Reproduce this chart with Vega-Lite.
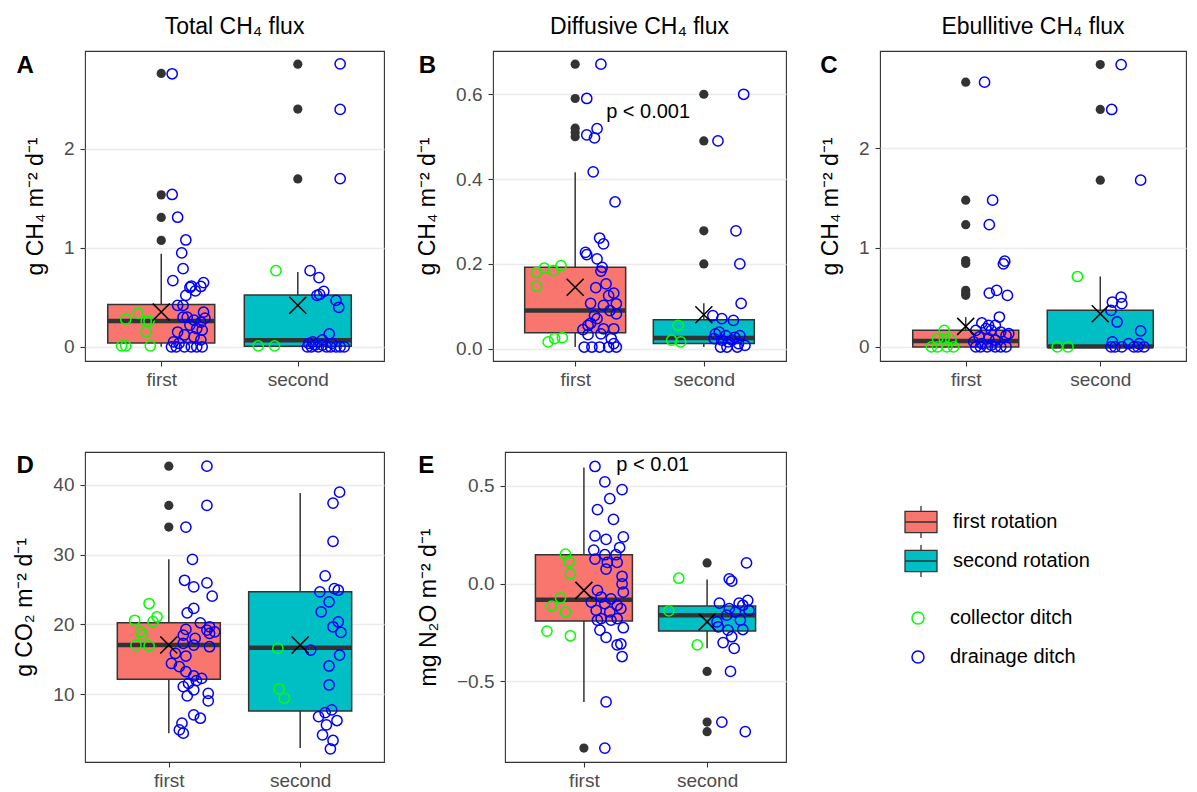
{
  "$schema": "https://vega.github.io/schema/vega-lite/v6.json",
  "padding": {"left": 13, "top": 15, "right": 4, "bottom": 0},
  "background": "white",
  "config": {
    "font": "Liberation Sans",
    "view": {"stroke": "#333333", "strokeWidth": 1.1},
    "axis": {"labelFont": "Liberation Sans", "labelFontSize": 19, "labelColor": "#4D4D4D", "tickColor": "#333333", "tickSize": 5, "tickWidth": 1.1, "domain": false, "titleFont": "Liberation Sans", "titleFontSize": 23, "titleFontWeight": "normal", "titleColor": "black"},
    "axisX": {"grid": false, "labelPadding": 4},
    "axisY": {"grid": true, "gridColor": "#EBEBEB", "gridWidth": 1.3, "labelPadding": 6, "titlePadding": 16},
    "title": {"font": "Liberation Sans", "fontSize": 23, "fontWeight": "normal", "color": "black", "anchor": "middle", "frame": "group", "offset": 12},
    "legend": {"labelFont": "Liberation Sans", "labelFontSize": 20, "labelColor": "black"}
  },
  "datasets": {
    "boxes": [
      {"panel": "A", "x": 1, "rotation": "first rotation", "lo": 0.0, "q1": 0.04, "med": 0.262, "q3": 0.427, "hi": 0.94, "mean": 0.353},
      {"panel": "A", "x": 2, "rotation": "second rotation", "lo": 0.0, "q1": 0.007, "med": 0.067, "q3": 0.524, "hi": 0.756, "mean": 0.42},
      {"panel": "B", "x": 1, "rotation": "first rotation", "lo": 0.004, "q1": 0.0376, "med": 0.09, "q3": 0.192, "hi": 0.416, "mean": 0.145},
      {"panel": "B", "x": 2, "rotation": "second rotation", "lo": 0.004, "q1": 0.012, "med": 0.025, "q3": 0.068, "hi": 0.107, "mean": 0.08},
      {"panel": "C", "x": 1, "rotation": "first rotation", "lo": 0.0, "q1": 0.0, "med": 0.06, "q3": 0.167, "hi": 0.3, "mean": 0.207},
      {"panel": "C", "x": 2, "rotation": "second rotation", "lo": 0.0, "q1": 0.0, "med": 0.005, "q3": 0.368, "hi": 0.709, "mean": 0.334},
      {"panel": "D", "x": 1, "rotation": "first rotation", "lo": 4.43, "q1": 12.14, "med": 17.05, "q3": 20.24, "hi": 29.33, "mean": 17.05},
      {"panel": "D", "x": 2, "rotation": "second rotation", "lo": 2.29, "q1": 7.62, "med": 16.67, "q3": 24.67, "hi": 38.81, "mean": 17.05},
      {"panel": "E", "x": 1, "rotation": "first rotation", "lo": -0.605, "q1": -0.191, "med": -0.083, "q3": 0.147, "hi": 0.593, "mean": -0.035},
      {"panel": "E", "x": 2, "rotation": "second rotation", "lo": -0.331, "q1": -0.242, "med": -0.162, "q3": -0.115, "hi": 0.02, "mean": -0.196}
    ],
    "outl": [
      {"panel": "A", "x": 1, "y": 2.763}, {"panel": "A", "x": 1, "y": 1.536}, {"panel": "A", "x": 1, "y": 1.308}, {"panel": "A", "x": 1, "y": 1.076},
      {"panel": "A", "x": 2, "y": 2.857}, {"panel": "A", "x": 2, "y": 2.403}, {"panel": "A", "x": 2, "y": 1.697},
      {"panel": "B", "x": 1, "y": 0.671}, {"panel": "B", "x": 1, "y": 0.59}, {"panel": "B", "x": 1, "y": 0.52}, {"panel": "B", "x": 1, "y": 0.51}, {"panel": "B", "x": 1, "y": 0.5},
      {"panel": "B", "x": 2, "y": 0.6}, {"panel": "B", "x": 2, "y": 0.49}, {"panel": "B", "x": 2, "y": 0.278}, {"panel": "B", "x": 2, "y": 0.2},
      {"panel": "C", "x": 1, "y": 2.666}, {"panel": "C", "x": 1, "y": 1.478}, {"panel": "C", "x": 1, "y": 1.231}, {"panel": "C", "x": 1, "y": 0.87}, {"panel": "C", "x": 1, "y": 0.84}, {"panel": "C", "x": 1, "y": 0.57}, {"panel": "C", "x": 1, "y": 0.54}, {"panel": "C", "x": 1, "y": 0.52},
      {"panel": "C", "x": 2, "y": 2.843}, {"panel": "C", "x": 2, "y": 2.391}, {"panel": "C", "x": 2, "y": 1.679},
      {"panel": "D", "x": 1, "y": 42.67}, {"panel": "D", "x": 1, "y": 37.05}, {"panel": "D", "x": 1, "y": 33.95},
      {"panel": "E", "x": 1, "y": -0.841},
      {"panel": "E", "x": 2, "y": 0.105}, {"panel": "E", "x": 2, "y": -0.449}, {"panel": "E", "x": 2, "y": -0.708}, {"panel": "E", "x": 2, "y": -0.757}
    ],
    "pts": [
      {"panel": "A", "x": 0.71, "y": 0.01, "ditch": "collector ditch"}, {"panel": "A", "x": 0.74, "y": 0.01, "ditch": "collector ditch"}, {"panel": "A", "x": 0.92, "y": 0.01, "ditch": "collector ditch"}, {"panel": "A", "x": 0.74, "y": 0.28, "ditch": "collector ditch"}, {"panel": "A", "x": 0.83, "y": 0.34, "ditch": "collector ditch"}, {"panel": "A", "x": 0.89, "y": 0.26, "ditch": "collector ditch"}, {"panel": "A", "x": 0.91, "y": 0.26, "ditch": "collector ditch"}, {"panel": "A", "x": 0.89, "y": 0.15, "ditch": "collector ditch"},
      {"panel": "A", "x": 1.71, "y": 0.01, "ditch": "collector ditch"}, {"panel": "A", "x": 1.83, "y": 0.01, "ditch": "collector ditch"}, {"panel": "A", "x": 1.84, "y": 0.77, "ditch": "collector ditch"},
      {"panel": "A", "x": 1.08, "y": 2.76, "ditch": "drainage ditch"}, {"panel": "A", "x": 1.08, "y": 1.54, "ditch": "drainage ditch"}, {"panel": "A", "x": 1.12, "y": 1.31, "ditch": "drainage ditch"}, {"panel": "A", "x": 1.18, "y": 1.08, "ditch": "drainage ditch"}, {"panel": "A", "x": 1.15, "y": 0.95, "ditch": "drainage ditch"}, {"panel": "A", "x": 1.16, "y": 0.79, "ditch": "drainage ditch"}, {"panel": "A", "x": 1.085, "y": 0.67, "ditch": "drainage ditch"}, {"panel": "A", "x": 1.21, "y": 0.6, "ditch": "drainage ditch"}, {"panel": "A", "x": 1.22, "y": 0.615, "ditch": "drainage ditch"}, {"panel": "A", "x": 1.29, "y": 0.61, "ditch": "drainage ditch"}, {"panel": "A", "x": 1.31, "y": 0.65, "ditch": "drainage ditch"}, {"panel": "A", "x": 1.25, "y": 0.565, "ditch": "drainage ditch"}, {"panel": "A", "x": 1.18, "y": 0.52, "ditch": "drainage ditch"}, {"panel": "A", "x": 1.12, "y": 0.42, "ditch": "drainage ditch"}, {"panel": "A", "x": 1.16, "y": 0.42, "ditch": "drainage ditch"}, {"panel": "A", "x": 1.31, "y": 0.35, "ditch": "drainage ditch"}, {"panel": "A", "x": 1.32, "y": 0.29, "ditch": "drainage ditch"}, {"panel": "A", "x": 1.19, "y": 0.3, "ditch": "drainage ditch"}, {"panel": "A", "x": 1.21, "y": 0.22, "ditch": "drainage ditch"}, {"panel": "A", "x": 1.26, "y": 0.185, "ditch": "drainage ditch"}, {"panel": "A", "x": 1.3, "y": 0.17, "ditch": "drainage ditch"}, {"panel": "A", "x": 1.12, "y": 0.15, "ditch": "drainage ditch"}, {"panel": "A", "x": 1.17, "y": 0.12, "ditch": "drainage ditch"}, {"panel": "A", "x": 1.24, "y": 0.1, "ditch": "drainage ditch"}, {"panel": "A", "x": 1.29, "y": 0.07, "ditch": "drainage ditch"}, {"panel": "A", "x": 1.09, "y": 0.05, "ditch": "drainage ditch"}, {"panel": "A", "x": 1.13, "y": 0.035, "ditch": "drainage ditch"}, {"panel": "A", "x": 1.075, "y": 0.0, "ditch": "drainage ditch"}, {"panel": "A", "x": 1.11, "y": 0.0, "ditch": "drainage ditch"}, {"panel": "A", "x": 1.17, "y": 0.0, "ditch": "drainage ditch"}, {"panel": "A", "x": 1.22, "y": 0.0, "ditch": "drainage ditch"}, {"panel": "A", "x": 1.26, "y": 0.0, "ditch": "drainage ditch"}, {"panel": "A", "x": 1.3, "y": 0.0, "ditch": "drainage ditch"}, {"panel": "A", "x": 1.16, "y": 0.3, "ditch": "drainage ditch"}, {"panel": "A", "x": 1.24, "y": 0.27, "ditch": "drainage ditch"}, {"panel": "A", "x": 1.29, "y": 0.25, "ditch": "drainage ditch"},
      {"panel": "A", "x": 2.31, "y": 2.86, "ditch": "drainage ditch"}, {"panel": "A", "x": 2.31, "y": 2.4, "ditch": "drainage ditch"}, {"panel": "A", "x": 2.31, "y": 1.7, "ditch": "drainage ditch"}, {"panel": "A", "x": 2.09, "y": 0.77, "ditch": "drainage ditch"}, {"panel": "A", "x": 2.155, "y": 0.7, "ditch": "drainage ditch"}, {"panel": "A", "x": 2.19, "y": 0.56, "ditch": "drainage ditch"}, {"panel": "A", "x": 2.14, "y": 0.52, "ditch": "drainage ditch"}, {"panel": "A", "x": 2.16, "y": 0.53, "ditch": "drainage ditch"}, {"panel": "A", "x": 2.28, "y": 0.47, "ditch": "drainage ditch"}, {"panel": "A", "x": 2.3, "y": 0.4, "ditch": "drainage ditch"}, {"panel": "A", "x": 2.23, "y": 0.13, "ditch": "drainage ditch"}, {"panel": "A", "x": 2.08, "y": 0.035, "ditch": "drainage ditch"}, {"panel": "A", "x": 2.07, "y": 0.0, "ditch": "drainage ditch"}, {"panel": "A", "x": 2.1, "y": 0.0, "ditch": "drainage ditch"}, {"panel": "A", "x": 2.125, "y": 0.017, "ditch": "drainage ditch"}, {"panel": "A", "x": 2.15, "y": 0.0, "ditch": "drainage ditch"}, {"panel": "A", "x": 2.18, "y": 0.017, "ditch": "drainage ditch"}, {"panel": "A", "x": 2.21, "y": 0.0, "ditch": "drainage ditch"}, {"panel": "A", "x": 2.24, "y": 0.0, "ditch": "drainage ditch"}, {"panel": "A", "x": 2.28, "y": 0.0, "ditch": "drainage ditch"}, {"panel": "A", "x": 2.31, "y": 0.0, "ditch": "drainage ditch"}, {"panel": "A", "x": 2.34, "y": 0.0, "ditch": "drainage ditch"}, {"panel": "A", "x": 2.11, "y": 0.05, "ditch": "drainage ditch"}, {"panel": "A", "x": 2.18, "y": 0.07, "ditch": "drainage ditch"}, {"panel": "A", "x": 2.25, "y": 0.035, "ditch": "drainage ditch"},

      {"panel": "B", "x": 0.7, "y": 0.18, "ditch": "collector ditch"}, {"panel": "B", "x": 0.76, "y": 0.19, "ditch": "collector ditch"}, {"panel": "B", "x": 0.83, "y": 0.184, "ditch": "collector ditch"}, {"panel": "B", "x": 0.89, "y": 0.196, "ditch": "collector ditch"}, {"panel": "B", "x": 0.7, "y": 0.147, "ditch": "collector ditch"}, {"panel": "B", "x": 0.79, "y": 0.016, "ditch": "collector ditch"}, {"panel": "B", "x": 0.84, "y": 0.024, "ditch": "collector ditch"}, {"panel": "B", "x": 0.9, "y": 0.026, "ditch": "collector ditch"},
      {"panel": "B", "x": 1.8, "y": 0.055, "ditch": "collector ditch"}, {"panel": "B", "x": 1.75, "y": 0.02, "ditch": "collector ditch"}, {"panel": "B", "x": 1.82, "y": 0.016, "ditch": "collector ditch"},
      {"panel": "B", "x": 1.2, "y": 0.671, "ditch": "drainage ditch"}, {"panel": "B", "x": 1.09, "y": 0.59, "ditch": "drainage ditch"}, {"panel": "B", "x": 1.09, "y": 0.504, "ditch": "drainage ditch"}, {"panel": "B", "x": 1.17, "y": 0.519, "ditch": "drainage ditch"}, {"panel": "B", "x": 1.15, "y": 0.497, "ditch": "drainage ditch"}, {"panel": "B", "x": 1.14, "y": 0.417, "ditch": "drainage ditch"}, {"panel": "B", "x": 1.31, "y": 0.346, "ditch": "drainage ditch"}, {"panel": "B", "x": 1.19, "y": 0.261, "ditch": "drainage ditch"}, {"panel": "B", "x": 1.22, "y": 0.247, "ditch": "drainage ditch"}, {"panel": "B", "x": 1.08, "y": 0.227, "ditch": "drainage ditch"}, {"panel": "B", "x": 1.09, "y": 0.222, "ditch": "drainage ditch"}, {"panel": "B", "x": 1.17, "y": 0.212, "ditch": "drainage ditch"}, {"panel": "B", "x": 1.21, "y": 0.192, "ditch": "drainage ditch"}, {"panel": "B", "x": 1.2, "y": 0.183, "ditch": "drainage ditch"}, {"panel": "B", "x": 1.24, "y": 0.153, "ditch": "drainage ditch"}, {"panel": "B", "x": 1.16, "y": 0.144, "ditch": "drainage ditch"}, {"panel": "B", "x": 1.3, "y": 0.131, "ditch": "drainage ditch"}, {"panel": "B", "x": 1.26, "y": 0.125, "ditch": "drainage ditch"}, {"panel": "B", "x": 1.12, "y": 0.107, "ditch": "drainage ditch"}, {"panel": "B", "x": 1.32, "y": 0.106, "ditch": "drainage ditch"}, {"panel": "B", "x": 1.22, "y": 0.102, "ditch": "drainage ditch"}, {"panel": "B", "x": 1.27, "y": 0.09, "ditch": "drainage ditch"}, {"panel": "B", "x": 1.32, "y": 0.082, "ditch": "drainage ditch"}, {"panel": "B", "x": 1.15, "y": 0.078, "ditch": "drainage ditch"}, {"panel": "B", "x": 1.17, "y": 0.071, "ditch": "drainage ditch"}, {"panel": "B", "x": 1.12, "y": 0.06, "ditch": "drainage ditch"}, {"panel": "B", "x": 1.1, "y": 0.055, "ditch": "drainage ditch"}, {"panel": "B", "x": 1.06, "y": 0.045, "ditch": "drainage ditch"}, {"panel": "B", "x": 1.22, "y": 0.047, "ditch": "drainage ditch"}, {"panel": "B", "x": 1.3, "y": 0.047, "ditch": "drainage ditch"}, {"panel": "B", "x": 1.1, "y": 0.033, "ditch": "drainage ditch"}, {"panel": "B", "x": 1.2, "y": 0.035, "ditch": "drainage ditch"}, {"panel": "B", "x": 1.28, "y": 0.024, "ditch": "drainage ditch"}, {"panel": "B", "x": 1.3, "y": 0.012, "ditch": "drainage ditch"}, {"panel": "B", "x": 1.07, "y": 0.004, "ditch": "drainage ditch"}, {"panel": "B", "x": 1.13, "y": 0.004, "ditch": "drainage ditch"}, {"panel": "B", "x": 1.19, "y": 0.004, "ditch": "drainage ditch"}, {"panel": "B", "x": 1.26, "y": 0.004, "ditch": "drainage ditch"}, {"panel": "B", "x": 1.32, "y": 0.004, "ditch": "drainage ditch"},
      {"panel": "B", "x": 2.31, "y": 0.6, "ditch": "drainage ditch"}, {"panel": "B", "x": 2.11, "y": 0.49, "ditch": "drainage ditch"}, {"panel": "B", "x": 2.25, "y": 0.278, "ditch": "drainage ditch"}, {"panel": "B", "x": 2.28, "y": 0.2, "ditch": "drainage ditch"}, {"panel": "B", "x": 2.29, "y": 0.107, "ditch": "drainage ditch"}, {"panel": "B", "x": 2.07, "y": 0.078, "ditch": "drainage ditch"}, {"panel": "B", "x": 2.14, "y": 0.071, "ditch": "drainage ditch"}, {"panel": "B", "x": 2.23, "y": 0.067, "ditch": "drainage ditch"}, {"panel": "B", "x": 2.09, "y": 0.035, "ditch": "drainage ditch"}, {"panel": "B", "x": 2.12, "y": 0.039, "ditch": "drainage ditch"}, {"panel": "B", "x": 2.17, "y": 0.031, "ditch": "drainage ditch"}, {"panel": "B", "x": 2.24, "y": 0.027, "ditch": "drainage ditch"}, {"panel": "B", "x": 2.28, "y": 0.031, "ditch": "drainage ditch"}, {"panel": "B", "x": 2.08, "y": 0.024, "ditch": "drainage ditch"}, {"panel": "B", "x": 2.14, "y": 0.02, "ditch": "drainage ditch"}, {"panel": "B", "x": 2.19, "y": 0.016, "ditch": "drainage ditch"}, {"panel": "B", "x": 2.22, "y": 0.02, "ditch": "drainage ditch"}, {"panel": "B", "x": 2.13, "y": 0.004, "ditch": "drainage ditch"}, {"panel": "B", "x": 2.18, "y": 0.004, "ditch": "drainage ditch"}, {"panel": "B", "x": 2.26, "y": 0.004, "ditch": "drainage ditch"}, {"panel": "B", "x": 2.32, "y": 0.008, "ditch": "drainage ditch"}, {"panel": "B", "x": 2.27, "y": 0.012, "ditch": "drainage ditch"},

      {"panel": "C", "x": 0.745, "y": 0.0, "ditch": "collector ditch"}, {"panel": "C", "x": 0.79, "y": 0.0, "ditch": "collector ditch"}, {"panel": "C", "x": 0.86, "y": 0.0, "ditch": "collector ditch"}, {"panel": "C", "x": 0.91, "y": 0.0, "ditch": "collector ditch"}, {"panel": "C", "x": 0.84, "y": 0.167, "ditch": "collector ditch"}, {"panel": "C", "x": 0.84, "y": 0.084, "ditch": "collector ditch"}, {"panel": "C", "x": 0.79, "y": 0.084, "ditch": "collector ditch"}, {"panel": "C", "x": 0.89, "y": 0.067, "ditch": "collector ditch"},
      {"panel": "C", "x": 1.68, "y": 0.0, "ditch": "collector ditch"}, {"panel": "C", "x": 1.76, "y": 0.0, "ditch": "collector ditch"}, {"panel": "C", "x": 1.83, "y": 0.709, "ditch": "collector ditch"},
      {"panel": "C", "x": 1.14, "y": 2.666, "ditch": "drainage ditch"}, {"panel": "C", "x": 1.2, "y": 1.478, "ditch": "drainage ditch"}, {"panel": "C", "x": 1.175, "y": 1.231, "ditch": "drainage ditch"}, {"panel": "C", "x": 1.29, "y": 0.863, "ditch": "drainage ditch"}, {"panel": "C", "x": 1.28, "y": 0.836, "ditch": "drainage ditch"}, {"panel": "C", "x": 1.175, "y": 0.542, "ditch": "drainage ditch"}, {"panel": "C", "x": 1.23, "y": 0.569, "ditch": "drainage ditch"}, {"panel": "C", "x": 1.31, "y": 0.518, "ditch": "drainage ditch"}, {"panel": "C", "x": 1.25, "y": 0.301, "ditch": "drainage ditch"}, {"panel": "C", "x": 1.12, "y": 0.241, "ditch": "drainage ditch"}, {"panel": "C", "x": 1.17, "y": 0.217, "ditch": "drainage ditch"}, {"panel": "C", "x": 1.22, "y": 0.217, "ditch": "drainage ditch"}, {"panel": "C", "x": 1.075, "y": 0.167, "ditch": "drainage ditch"}, {"panel": "C", "x": 1.15, "y": 0.184, "ditch": "drainage ditch"}, {"panel": "C", "x": 1.19, "y": 0.167, "ditch": "drainage ditch"}, {"panel": "C", "x": 1.26, "y": 0.15, "ditch": "drainage ditch"}, {"panel": "C", "x": 1.32, "y": 0.134, "ditch": "drainage ditch"}, {"panel": "C", "x": 1.3, "y": 0.117, "ditch": "drainage ditch"}, {"panel": "C", "x": 1.1, "y": 0.1, "ditch": "drainage ditch"}, {"panel": "C", "x": 1.17, "y": 0.084, "ditch": "drainage ditch"}, {"panel": "C", "x": 1.22, "y": 0.067, "ditch": "drainage ditch"}, {"panel": "C", "x": 1.06, "y": 0.05, "ditch": "drainage ditch"}, {"panel": "C", "x": 1.12, "y": 0.033, "ditch": "drainage ditch"}, {"panel": "C", "x": 1.19, "y": 0.017, "ditch": "drainage ditch"}, {"panel": "C", "x": 1.075, "y": 0.0, "ditch": "drainage ditch"}, {"panel": "C", "x": 1.11, "y": 0.0, "ditch": "drainage ditch"}, {"panel": "C", "x": 1.16, "y": 0.0, "ditch": "drainage ditch"}, {"panel": "C", "x": 1.22, "y": 0.0, "ditch": "drainage ditch"}, {"panel": "C", "x": 1.26, "y": 0.0, "ditch": "drainage ditch"}, {"panel": "C", "x": 1.3, "y": 0.0, "ditch": "drainage ditch"},
      {"panel": "C", "x": 2.155, "y": 2.843, "ditch": "drainage ditch"}, {"panel": "C", "x": 2.085, "y": 2.391, "ditch": "drainage ditch"}, {"panel": "C", "x": 2.3, "y": 1.679, "ditch": "drainage ditch"}, {"panel": "C", "x": 2.155, "y": 0.502, "ditch": "drainage ditch"}, {"panel": "C", "x": 2.16, "y": 0.435, "ditch": "drainage ditch"}, {"panel": "C", "x": 2.09, "y": 0.452, "ditch": "drainage ditch"}, {"panel": "C", "x": 2.08, "y": 0.368, "ditch": "drainage ditch"}, {"panel": "C", "x": 2.125, "y": 0.251, "ditch": "drainage ditch"}, {"panel": "C", "x": 2.3, "y": 0.161, "ditch": "drainage ditch"}, {"panel": "C", "x": 2.09, "y": 0.05, "ditch": "drainage ditch"}, {"panel": "C", "x": 2.08, "y": 0.0, "ditch": "drainage ditch"}, {"panel": "C", "x": 2.11, "y": 0.0, "ditch": "drainage ditch"}, {"panel": "C", "x": 2.16, "y": 0.0, "ditch": "drainage ditch"}, {"panel": "C", "x": 2.21, "y": 0.033, "ditch": "drainage ditch"}, {"panel": "C", "x": 2.25, "y": 0.0, "ditch": "drainage ditch"}, {"panel": "C", "x": 2.29, "y": 0.033, "ditch": "drainage ditch"}, {"panel": "C", "x": 2.325, "y": 0.0, "ditch": "drainage ditch"}, {"panel": "C", "x": 2.28, "y": 0.0, "ditch": "drainage ditch"},

      {"panel": "D", "x": 0.74, "y": 20.6, "ditch": "collector ditch"}, {"panel": "D", "x": 0.85, "y": 23.0, "ditch": "collector ditch"}, {"panel": "D", "x": 0.91, "y": 21.1, "ditch": "collector ditch"}, {"panel": "D", "x": 0.88, "y": 20.4, "ditch": "collector ditch"}, {"panel": "D", "x": 0.785, "y": 18.95, "ditch": "collector ditch"}, {"panel": "D", "x": 0.8, "y": 18.5, "ditch": "collector ditch"}, {"panel": "D", "x": 0.75, "y": 17.05, "ditch": "collector ditch"}, {"panel": "D", "x": 0.85, "y": 16.95, "ditch": "collector ditch"},
      {"panel": "D", "x": 1.83, "y": 16.57, "ditch": "collector ditch"}, {"panel": "D", "x": 1.84, "y": 10.76, "ditch": "collector ditch"}, {"panel": "D", "x": 1.88, "y": 9.43, "ditch": "collector ditch"},
      {"panel": "D", "x": 1.29, "y": 42.67, "ditch": "drainage ditch"}, {"panel": "D", "x": 1.29, "y": 37.05, "ditch": "drainage ditch"}, {"panel": "D", "x": 1.13, "y": 33.95, "ditch": "drainage ditch"}, {"panel": "D", "x": 1.18, "y": 29.33, "ditch": "drainage ditch"}, {"panel": "D", "x": 1.12, "y": 26.33, "ditch": "drainage ditch"}, {"panel": "D", "x": 1.19, "y": 25.38, "ditch": "drainage ditch"}, {"panel": "D", "x": 1.29, "y": 25.95, "ditch": "drainage ditch"}, {"panel": "D", "x": 1.33, "y": 24.05, "ditch": "drainage ditch"}, {"panel": "D", "x": 1.19, "y": 22.29, "ditch": "drainage ditch"}, {"panel": "D", "x": 1.14, "y": 21.67, "ditch": "drainage ditch"}, {"panel": "D", "x": 1.24, "y": 20.24, "ditch": "drainage ditch"}, {"panel": "D", "x": 1.13, "y": 19.29, "ditch": "drainage ditch"}, {"panel": "D", "x": 1.31, "y": 19.67, "ditch": "drainage ditch"}, {"panel": "D", "x": 1.29, "y": 19.19, "ditch": "drainage ditch"}, {"panel": "D", "x": 1.35, "y": 18.95, "ditch": "drainage ditch"}, {"panel": "D", "x": 1.11, "y": 18.48, "ditch": "drainage ditch"}, {"panel": "D", "x": 1.2, "y": 18.0, "ditch": "drainage ditch"}, {"panel": "D", "x": 1.31, "y": 18.71, "ditch": "drainage ditch"}, {"panel": "D", "x": 1.11, "y": 17.29, "ditch": "drainage ditch"}, {"panel": "D", "x": 1.19, "y": 17.05, "ditch": "drainage ditch"}, {"panel": "D", "x": 1.31, "y": 16.81, "ditch": "drainage ditch"}, {"panel": "D", "x": 1.05, "y": 15.86, "ditch": "drainage ditch"}, {"panel": "D", "x": 1.13, "y": 15.48, "ditch": "drainage ditch"}, {"panel": "D", "x": 1.02, "y": 14.43, "ditch": "drainage ditch"}, {"panel": "D", "x": 1.08, "y": 13.95, "ditch": "drainage ditch"}, {"panel": "D", "x": 1.13, "y": 13.24, "ditch": "drainage ditch"}, {"panel": "D", "x": 1.19, "y": 12.62, "ditch": "drainage ditch"}, {"panel": "D", "x": 1.25, "y": 12.29, "ditch": "drainage ditch"}, {"panel": "D", "x": 1.21, "y": 11.95, "ditch": "drainage ditch"}, {"panel": "D", "x": 1.15, "y": 11.57, "ditch": "drainage ditch"}, {"panel": "D", "x": 1.11, "y": 11.1, "ditch": "drainage ditch"}, {"panel": "D", "x": 1.19, "y": 10.62, "ditch": "drainage ditch"}, {"panel": "D", "x": 1.3, "y": 10.14, "ditch": "drainage ditch"}, {"panel": "D", "x": 1.14, "y": 9.76, "ditch": "drainage ditch"}, {"panel": "D", "x": 1.3, "y": 9.05, "ditch": "drainage ditch"}, {"panel": "D", "x": 1.19, "y": 7.05, "ditch": "drainage ditch"}, {"panel": "D", "x": 1.24, "y": 6.57, "ditch": "drainage ditch"}, {"panel": "D", "x": 1.1, "y": 5.86, "ditch": "drainage ditch"}, {"panel": "D", "x": 1.08, "y": 4.9, "ditch": "drainage ditch"}, {"panel": "D", "x": 1.11, "y": 4.43, "ditch": "drainage ditch"},
      {"panel": "D", "x": 2.3, "y": 38.95, "ditch": "drainage ditch"}, {"panel": "D", "x": 2.25, "y": 37.38, "ditch": "drainage ditch"}, {"panel": "D", "x": 2.25, "y": 31.9, "ditch": "drainage ditch"}, {"panel": "D", "x": 2.19, "y": 26.95, "ditch": "drainage ditch"}, {"panel": "D", "x": 2.15, "y": 24.67, "ditch": "drainage ditch"}, {"panel": "D", "x": 2.26, "y": 25.14, "ditch": "drainage ditch"}, {"panel": "D", "x": 2.29, "y": 24.9, "ditch": "drainage ditch"}, {"panel": "D", "x": 2.22, "y": 23.24, "ditch": "drainage ditch"}, {"panel": "D", "x": 2.16, "y": 21.81, "ditch": "drainage ditch"}, {"panel": "D", "x": 2.29, "y": 20.38, "ditch": "drainage ditch"}, {"panel": "D", "x": 2.25, "y": 19.67, "ditch": "drainage ditch"}, {"panel": "D", "x": 2.31, "y": 18.86, "ditch": "drainage ditch"}, {"panel": "D", "x": 2.08, "y": 16.33, "ditch": "drainage ditch"}, {"panel": "D", "x": 2.3, "y": 15.62, "ditch": "drainage ditch"}, {"panel": "D", "x": 2.22, "y": 14.05, "ditch": "drainage ditch"}, {"panel": "D", "x": 2.22, "y": 11.33, "ditch": "drainage ditch"}, {"panel": "D", "x": 2.24, "y": 7.76, "ditch": "drainage ditch"}, {"panel": "D", "x": 2.19, "y": 7.38, "ditch": "drainage ditch"}, {"panel": "D", "x": 2.14, "y": 6.81, "ditch": "drainage ditch"}, {"panel": "D", "x": 2.28, "y": 6.24, "ditch": "drainage ditch"}, {"panel": "D", "x": 2.2, "y": 5.62, "ditch": "drainage ditch"}, {"panel": "D", "x": 2.17, "y": 4.19, "ditch": "drainage ditch"}, {"panel": "D", "x": 2.25, "y": 3.38, "ditch": "drainage ditch"}, {"panel": "D", "x": 2.23, "y": 2.19, "ditch": "drainage ditch"},

      {"panel": "E", "x": 0.85, "y": 0.15, "ditch": "collector ditch"}, {"panel": "E", "x": 0.88, "y": 0.113, "ditch": "collector ditch"}, {"panel": "E", "x": 0.89, "y": 0.049, "ditch": "collector ditch"}, {"panel": "E", "x": 0.81, "y": -0.073, "ditch": "collector ditch"}, {"panel": "E", "x": 0.74, "y": -0.115, "ditch": "collector ditch"}, {"panel": "E", "x": 0.85, "y": -0.145, "ditch": "collector ditch"}, {"panel": "E", "x": 0.7, "y": -0.243, "ditch": "collector ditch"}, {"panel": "E", "x": 0.89, "y": -0.267, "ditch": "collector ditch"},
      {"panel": "E", "x": 1.77, "y": 0.027, "ditch": "collector ditch"}, {"panel": "E", "x": 1.69, "y": -0.14, "ditch": "collector ditch"}, {"panel": "E", "x": 1.92, "y": -0.314, "ditch": "collector ditch"},
      {"panel": "E", "x": 1.09, "y": 0.598, "ditch": "drainage ditch"}, {"panel": "E", "x": 1.17, "y": 0.519, "ditch": "drainage ditch"}, {"panel": "E", "x": 1.31, "y": 0.48, "ditch": "drainage ditch"}, {"panel": "E", "x": 1.21, "y": 0.434, "ditch": "drainage ditch"}, {"panel": "E", "x": 1.11, "y": 0.378, "ditch": "drainage ditch"}, {"panel": "E", "x": 1.24, "y": 0.328, "ditch": "drainage ditch"}, {"panel": "E", "x": 1.09, "y": 0.243, "ditch": "drainage ditch"}, {"panel": "E", "x": 1.18, "y": 0.226, "ditch": "drainage ditch"}, {"panel": "E", "x": 1.32, "y": 0.238, "ditch": "drainage ditch"}, {"panel": "E", "x": 1.29, "y": 0.184, "ditch": "drainage ditch"}, {"panel": "E", "x": 1.08, "y": 0.171, "ditch": "drainage ditch"}, {"panel": "E", "x": 1.17, "y": 0.147, "ditch": "drainage ditch"}, {"panel": "E", "x": 1.26, "y": 0.147, "ditch": "drainage ditch"}, {"panel": "E", "x": 1.09, "y": 0.125, "ditch": "drainage ditch"}, {"panel": "E", "x": 1.19, "y": 0.108, "ditch": "drainage ditch"}, {"panel": "E", "x": 1.27, "y": 0.108, "ditch": "drainage ditch"}, {"panel": "E", "x": 1.18, "y": 0.074, "ditch": "drainage ditch"}, {"panel": "E", "x": 1.31, "y": 0.037, "ditch": "drainage ditch"}, {"panel": "E", "x": 1.31, "y": -0.002, "ditch": "drainage ditch"}, {"panel": "E", "x": 1.11, "y": -0.035, "ditch": "drainage ditch"}, {"panel": "E", "x": 1.32, "y": -0.044, "ditch": "drainage ditch"}, {"panel": "E", "x": 1.14, "y": -0.069, "ditch": "drainage ditch"}, {"panel": "E", "x": 1.22, "y": -0.078, "ditch": "drainage ditch"}, {"panel": "E", "x": 1.06, "y": -0.095, "ditch": "drainage ditch"}, {"panel": "E", "x": 1.17, "y": -0.103, "ditch": "drainage ditch"}, {"panel": "E", "x": 1.27, "y": -0.111, "ditch": "drainage ditch"}, {"panel": "E", "x": 1.3, "y": -0.128, "ditch": "drainage ditch"}, {"panel": "E", "x": 1.1, "y": -0.137, "ditch": "drainage ditch"}, {"panel": "E", "x": 1.21, "y": -0.145, "ditch": "drainage ditch"}, {"panel": "E", "x": 1.14, "y": -0.179, "ditch": "drainage ditch"}, {"panel": "E", "x": 1.27, "y": -0.179, "ditch": "drainage ditch"}, {"panel": "E", "x": 1.11, "y": -0.187, "ditch": "drainage ditch"}, {"panel": "E", "x": 1.22, "y": -0.187, "ditch": "drainage ditch"}, {"panel": "E", "x": 1.32, "y": -0.226, "ditch": "drainage ditch"}, {"panel": "E", "x": 1.13, "y": -0.238, "ditch": "drainage ditch"}, {"panel": "E", "x": 1.18, "y": -0.275, "ditch": "drainage ditch"}, {"panel": "E", "x": 1.3, "y": -0.309, "ditch": "drainage ditch"}, {"panel": "E", "x": 1.27, "y": -0.314, "ditch": "drainage ditch"}, {"panel": "E", "x": 1.31, "y": -0.373, "ditch": "drainage ditch"}, {"panel": "E", "x": 1.18, "y": -0.605, "ditch": "drainage ditch"}, {"panel": "E", "x": 1.17, "y": -0.841, "ditch": "drainage ditch"},
      {"panel": "E", "x": 2.32, "y": 0.105, "ditch": "drainage ditch"}, {"panel": "E", "x": 2.18, "y": 0.024, "ditch": "drainage ditch"}, {"panel": "E", "x": 2.2, "y": 0.012, "ditch": "drainage ditch"}, {"panel": "E", "x": 2.1, "y": -0.1, "ditch": "drainage ditch"}, {"panel": "E", "x": 2.18, "y": -0.128, "ditch": "drainage ditch"}, {"panel": "E", "x": 2.26, "y": -0.1, "ditch": "drainage ditch"}, {"panel": "E", "x": 2.33, "y": -0.086, "ditch": "drainage ditch"}, {"panel": "E", "x": 2.29, "y": -0.111, "ditch": "drainage ditch"}, {"panel": "E", "x": 2.23, "y": -0.145, "ditch": "drainage ditch"}, {"panel": "E", "x": 2.16, "y": -0.162, "ditch": "drainage ditch"}, {"panel": "E", "x": 2.34, "y": -0.137, "ditch": "drainage ditch"}, {"panel": "E", "x": 2.08, "y": -0.196, "ditch": "drainage ditch"}, {"panel": "E", "x": 2.27, "y": -0.187, "ditch": "drainage ditch"}, {"panel": "E", "x": 2.17, "y": -0.238, "ditch": "drainage ditch"}, {"panel": "E", "x": 2.09, "y": -0.221, "ditch": "drainage ditch"}, {"panel": "E", "x": 2.29, "y": -0.235, "ditch": "drainage ditch"}, {"panel": "E", "x": 2.2, "y": -0.272, "ditch": "drainage ditch"}, {"panel": "E", "x": 2.13, "y": -0.302, "ditch": "drainage ditch"}, {"panel": "E", "x": 2.22, "y": -0.331, "ditch": "drainage ditch"}, {"panel": "E", "x": 2.19, "y": -0.449, "ditch": "drainage ditch"}, {"panel": "E", "x": 2.12, "y": -0.708, "ditch": "drainage ditch"}, {"panel": "E", "x": 2.31, "y": -0.757, "ditch": "drainage ditch"}
    ]
  },
  "spacing": 61,
  "vconcat": [
    {
      "spacing": 31,
      "hconcat": [
        {
          "width": 299, "height": 310,
          "title": {"text": "Total CH₄ flux"},
          "layer": [
            {"data": {"name": "boxes"}, "transform": [{"filter": "datum.panel == 'A'"}], "mark": {"type": "rule", "color": "#333333", "strokeWidth": 1.5},
             "encoding": {"x": {"field": "x", "type": "quantitative", "scale": {"domain": [0.4784, 2.5945], "nice": false, "zero": false}, "axis": {"values": [1, 2], "labelExpr": "datum.value == 1 ? 'first' : 'second'", "title": null}},
                          "y": {"field": "lo", "type": "quantitative", "scale": {"domain": [-0.143, 2.99], "nice": false, "zero": false}, "axis": {"values": [0, 1, 2], "format": "d", "title": "g CH₄ m⁻² d⁻¹"}},
                          "y2": {"field": "hi"}}},
            {"data": {"name": "boxes"}, "transform": [{"filter": "datum.panel == 'A'"}], "mark": {"type": "bar", "orient": "vertical", "size": 107, "stroke": "#333333", "strokeWidth": 1.5},
             "encoding": {"x": {"field": "x", "type": "quantitative"}, "y": {"field": "q1", "type": "quantitative"}, "y2": {"field": "q3"},
                          "fill": {"field": "rotation", "type": "nominal", "scale": {"domain": ["first rotation", "second rotation"], "range": ["#F8766D", "#00BFC4"]},
                                   "legend": {"title": null, "orient": "none", "legendX": 819, "legendY": 454, "symbolType": "M-1,-0.66H1V0.66H-1Z M0,-0.66V-1 M0,0.66V1 M-1,0H1", "symbolSize": 1024, "symbolStrokeColor": "#333333", "symbolStrokeWidth": 1.3, "symbolOpacity": 1, "labelOffset": 15, "rowPadding": 1}}}},
            {"data": {"name": "boxes"}, "transform": [{"filter": "datum.panel == 'A'"}], "mark": {"type": "tick", "orient": "horizontal", "size": 107, "thickness": 4.5, "color": "#333333", "opacity": 1},
             "encoding": {"x": {"field": "x", "type": "quantitative"}, "y": {"field": "med", "type": "quantitative"}}},
            {"data": {"name": "outl"}, "transform": [{"filter": "datum.panel == 'A'"}], "mark": {"type": "circle", "size": 85, "color": "#333333", "opacity": 1},
             "encoding": {"x": {"field": "x", "type": "quantitative"}, "y": {"field": "y", "type": "quantitative"}}},
            {"data": {"name": "pts"}, "transform": [{"filter": "datum.panel == 'A'"}], "mark": {"type": "point", "shape": "circle", "filled": false, "size": 105, "strokeWidth": 1.5, "opacity": 1},
             "encoding": {"x": {"field": "x", "type": "quantitative"}, "y": {"field": "y", "type": "quantitative"},
                          "stroke": {"field": "ditch", "type": "nominal", "scale": {"domain": ["collector ditch", "drainage ditch"], "range": ["#00FF00", "#0000FF"]},
                                     "legend": {"title": null, "orient": "none", "legendX": 823, "legendY": 557, "symbolType": "circle", "symbolSize": 144, "symbolStrokeWidth": 1.5, "labelOffset": 22, "rowPadding": 19}}}},
            {"data": {"name": "boxes"}, "transform": [{"filter": "datum.panel == 'A'"}], "mark": {"type": "point", "shape": "M-1,-1L1,1M-1,1L1,-1", "size": 289, "strokeWidth": 1.5, "color": "black", "filled": false, "opacity": 1},
             "encoding": {"x": {"field": "x", "type": "quantitative"}, "y": {"field": "mean", "type": "quantitative"}}},
            {"data": {"values": [{}]}, "mark": {"type": "text", "fontSize": 24, "fontWeight": "bold", "align": "left", "baseline": "alphabetic", "color": "black"},
             "encoding": {"x": {"datum": -0.0595}, "y": {"datum": 2.768}, "text": {"value": "A"}}}
          ]
        },
        {
          "width": 293, "height": 310,
          "title": {"text": "Diffusive CH₄ flux"},
          "layer": [
            {"data": {"name": "boxes"}, "transform": [{"filter": "datum.panel == 'B'"}], "mark": {"type": "rule", "color": "#333333", "strokeWidth": 1.5},
             "encoding": {"x": {"field": "x", "type": "quantitative", "scale": {"domain": [0.4, 2.6], "nice": false, "zero": false}, "axis": {"values": [1, 2], "labelExpr": "datum.value == 1 ? 'first' : 'second'", "title": null}},
                          "y": {"field": "lo", "type": "quantitative", "scale": {"domain": [-0.029, 0.702], "nice": false, "zero": false}, "axis": {"values": [0, 0.2, 0.4, 0.6], "format": ".1f", "title": "g CH₄ m⁻² d⁻¹"}},
                          "y2": {"field": "hi"}}},
            {"data": {"name": "boxes"}, "transform": [{"filter": "datum.panel == 'B'"}], "mark": {"type": "bar", "orient": "vertical", "size": 101, "stroke": "#333333", "strokeWidth": 1.5},
             "encoding": {"x": {"field": "x", "type": "quantitative"}, "y": {"field": "q1", "type": "quantitative"}, "y2": {"field": "q3"},
                          "fill": {"field": "rotation", "type": "nominal", "scale": {"domain": ["first rotation", "second rotation"], "range": ["#F8766D", "#00BFC4"]}}}},
            {"data": {"name": "boxes"}, "transform": [{"filter": "datum.panel == 'B'"}], "mark": {"type": "tick", "orient": "horizontal", "size": 101, "thickness": 4.5, "color": "#333333", "opacity": 1},
             "encoding": {"x": {"field": "x", "type": "quantitative"}, "y": {"field": "med", "type": "quantitative"}}},
            {"data": {"name": "outl"}, "transform": [{"filter": "datum.panel == 'B'"}], "mark": {"type": "circle", "size": 85, "color": "#333333", "opacity": 1},
             "encoding": {"x": {"field": "x", "type": "quantitative"}, "y": {"field": "y", "type": "quantitative"}}},
            {"data": {"name": "pts"}, "transform": [{"filter": "datum.panel == 'B'"}], "mark": {"type": "point", "shape": "circle", "filled": false, "size": 105, "strokeWidth": 1.5, "opacity": 1},
             "encoding": {"x": {"field": "x", "type": "quantitative"}, "y": {"field": "y", "type": "quantitative"},
                          "stroke": {"field": "ditch", "type": "nominal", "scale": {"domain": ["collector ditch", "drainage ditch"], "range": ["#00FF00", "#0000FF"]}}}},
            {"data": {"name": "boxes"}, "transform": [{"filter": "datum.panel == 'B'"}], "mark": {"type": "point", "shape": "M-1,-1L1,1M-1,1L1,-1", "size": 289, "strokeWidth": 1.5, "color": "black", "filled": false, "opacity": 1},
             "encoding": {"x": {"field": "x", "type": "quantitative"}, "y": {"field": "mean", "type": "quantitative"}}},
            {"data": {"values": [{}]}, "mark": {"type": "text", "fontSize": 20, "align": "center", "baseline": "middle", "color": "black"},
             "encoding": {"x": {"datum": 1.567}, "y": {"datum": 0.558}, "text": {"value": "p < 0.001"}}},
            {"data": {"values": [{}]}, "mark": {"type": "text", "fontSize": 24, "fontWeight": "bold", "align": "left", "baseline": "alphabetic", "color": "black"},
             "encoding": {"x": {"datum": -0.216}, "y": {"datum": 0.65}, "text": {"value": "B"}}}
          ]
        },
        {
          "width": 306, "height": 310,
          "title": {"text": "Ebullitive CH₄ flux"},
          "layer": [
            {"data": {"name": "boxes"}, "transform": [{"filter": "datum.panel == 'C'"}], "mark": {"type": "rule", "color": "#333333", "strokeWidth": 1.5},
             "encoding": {"x": {"field": "x", "type": "quantitative", "scale": {"domain": [0.4, 2.6], "nice": false, "zero": false}, "axis": {"values": [1, 2], "labelExpr": "datum.value == 1 ? 'first' : 'second'", "title": null}},
                          "y": {"field": "lo", "type": "quantitative", "scale": {"domain": [-0.142, 2.98], "nice": false, "zero": false}, "axis": {"values": [0, 1, 2], "format": "d", "title": "g CH₄ m⁻² d⁻¹"}},
                          "y2": {"field": "hi"}}},
            {"data": {"name": "boxes"}, "transform": [{"filter": "datum.panel == 'C'"}], "mark": {"type": "bar", "orient": "vertical", "size": 106, "stroke": "#333333", "strokeWidth": 1.5},
             "encoding": {"x": {"field": "x", "type": "quantitative"}, "y": {"field": "q1", "type": "quantitative"}, "y2": {"field": "q3"},
                          "fill": {"field": "rotation", "type": "nominal", "scale": {"domain": ["first rotation", "second rotation"], "range": ["#F8766D", "#00BFC4"]}}}},
            {"data": {"name": "boxes"}, "transform": [{"filter": "datum.panel == 'C'"}], "mark": {"type": "tick", "orient": "horizontal", "size": 106, "thickness": 4.5, "color": "#333333", "opacity": 1},
             "encoding": {"x": {"field": "x", "type": "quantitative"}, "y": {"field": "med", "type": "quantitative"}}},
            {"data": {"name": "outl"}, "transform": [{"filter": "datum.panel == 'C'"}], "mark": {"type": "circle", "size": 85, "color": "#333333", "opacity": 1},
             "encoding": {"x": {"field": "x", "type": "quantitative"}, "y": {"field": "y", "type": "quantitative"}}},
            {"data": {"name": "pts"}, "transform": [{"filter": "datum.panel == 'C'"}], "mark": {"type": "point", "shape": "circle", "filled": false, "size": 105, "strokeWidth": 1.5, "opacity": 1},
             "encoding": {"x": {"field": "x", "type": "quantitative"}, "y": {"field": "y", "type": "quantitative"},
                          "stroke": {"field": "ditch", "type": "nominal", "scale": {"domain": ["collector ditch", "drainage ditch"], "range": ["#00FF00", "#0000FF"]}}}},
            {"data": {"name": "boxes"}, "transform": [{"filter": "datum.panel == 'C'"}], "mark": {"type": "point", "shape": "M-1,-1L1,1M-1,1L1,-1", "size": 289, "strokeWidth": 1.5, "color": "black", "filled": false, "opacity": 1},
             "encoding": {"x": {"field": "x", "type": "quantitative"}, "y": {"field": "mean", "type": "quantitative"}}},
            {"data": {"values": [{}]}, "mark": {"type": "text", "fontSize": 24, "fontWeight": "bold", "align": "left", "baseline": "alphabetic", "color": "black"},
             "encoding": {"x": {"datum": -0.082}, "y": {"datum": 2.758}, "text": {"value": "C"}}}
          ]
        }
      ]
    },
    {
      "spacing": 31,
      "hconcat": [
        {
          "width": 299, "height": 310,
          "layer": [
            {"data": {"name": "boxes"}, "transform": [{"filter": "datum.panel == 'D'"}], "mark": {"type": "rule", "color": "#333333", "strokeWidth": 1.5},
             "encoding": {"x": {"field": "x", "type": "quantitative", "scale": {"domain": [0.4, 2.6], "nice": false, "zero": false}, "axis": {"values": [1, 2], "labelExpr": "datum.value == 1 ? 'first' : 'second'", "title": null}},
                          "y": {"field": "lo", "type": "quantitative", "scale": {"domain": [0.3, 44.7], "nice": false, "zero": false}, "axis": {"values": [10, 20, 30, 40], "format": "d", "title": "g CO₂ m⁻² d⁻¹"}},
                          "y2": {"field": "hi"}}},
            {"data": {"name": "boxes"}, "transform": [{"filter": "datum.panel == 'D'"}], "mark": {"type": "bar", "orient": "vertical", "size": 103, "stroke": "#333333", "strokeWidth": 1.5},
             "encoding": {"x": {"field": "x", "type": "quantitative"}, "y": {"field": "q1", "type": "quantitative"}, "y2": {"field": "q3"},
                          "fill": {"field": "rotation", "type": "nominal", "scale": {"domain": ["first rotation", "second rotation"], "range": ["#F8766D", "#00BFC4"]}}}},
            {"data": {"name": "boxes"}, "transform": [{"filter": "datum.panel == 'D'"}], "mark": {"type": "tick", "orient": "horizontal", "size": 103, "thickness": 4.5, "color": "#333333", "opacity": 1},
             "encoding": {"x": {"field": "x", "type": "quantitative"}, "y": {"field": "med", "type": "quantitative"}}},
            {"data": {"name": "outl"}, "transform": [{"filter": "datum.panel == 'D'"}], "mark": {"type": "circle", "size": 85, "color": "#333333", "opacity": 1},
             "encoding": {"x": {"field": "x", "type": "quantitative"}, "y": {"field": "y", "type": "quantitative"}}},
            {"data": {"name": "pts"}, "transform": [{"filter": "datum.panel == 'D'"}], "mark": {"type": "point", "shape": "circle", "filled": false, "size": 105, "strokeWidth": 1.5, "opacity": 1},
             "encoding": {"x": {"field": "x", "type": "quantitative"}, "y": {"field": "y", "type": "quantitative"},
                          "stroke": {"field": "ditch", "type": "nominal", "scale": {"domain": ["collector ditch", "drainage ditch"], "range": ["#00FF00", "#0000FF"]}}}},
            {"data": {"name": "boxes"}, "transform": [{"filter": "datum.panel == 'D'"}], "mark": {"type": "point", "shape": "M-1,-1L1,1M-1,1L1,-1", "size": 289, "strokeWidth": 1.5, "color": "black", "filled": false, "opacity": 1},
             "encoding": {"x": {"field": "x", "type": "quantitative"}, "y": {"field": "mean", "type": "quantitative"}}},
            {"data": {"values": [{}]}, "mark": {"type": "text", "fontSize": 24, "fontWeight": "bold", "align": "left", "baseline": "alphabetic", "color": "black"},
             "encoding": {"x": {"datum": -0.159}, "y": {"datum": 41.74}, "text": {"value": "D"}}}
          ]
        },
        {
          "width": 281, "height": 310,
          "layer": [
            {"data": {"name": "boxes"}, "transform": [{"filter": "datum.panel == 'E'"}], "mark": {"type": "rule", "color": "#333333", "strokeWidth": 1.5},
             "encoding": {"x": {"field": "x", "type": "quantitative", "scale": {"domain": [0.4, 2.6], "nice": false, "zero": false}, "axis": {"values": [1, 2], "labelExpr": "datum.value == 1 ? 'first' : 'second'", "title": null}},
                          "y": {"field": "lo", "type": "quantitative", "scale": {"domain": [-0.912, 0.672], "nice": false, "zero": false}, "axis": {"values": [-0.5, 0, 0.5], "labelExpr": "replace(format(datum.value, '.1f'), '-', '−')", "title": "mg N₂O m⁻² d⁻¹"}},
                          "y2": {"field": "hi"}}},
            {"data": {"name": "boxes"}, "transform": [{"filter": "datum.panel == 'E'"}], "mark": {"type": "bar", "orient": "vertical", "size": 97, "stroke": "#333333", "strokeWidth": 1.5},
             "encoding": {"x": {"field": "x", "type": "quantitative"}, "y": {"field": "q1", "type": "quantitative"}, "y2": {"field": "q3"},
                          "fill": {"field": "rotation", "type": "nominal", "scale": {"domain": ["first rotation", "second rotation"], "range": ["#F8766D", "#00BFC4"]}}}},
            {"data": {"name": "boxes"}, "transform": [{"filter": "datum.panel == 'E'"}], "mark": {"type": "tick", "orient": "horizontal", "size": 97, "thickness": 4.5, "color": "#333333", "opacity": 1},
             "encoding": {"x": {"field": "x", "type": "quantitative"}, "y": {"field": "med", "type": "quantitative"}}},
            {"data": {"name": "outl"}, "transform": [{"filter": "datum.panel == 'E'"}], "mark": {"type": "circle", "size": 85, "color": "#333333", "opacity": 1},
             "encoding": {"x": {"field": "x", "type": "quantitative"}, "y": {"field": "y", "type": "quantitative"}}},
            {"data": {"name": "pts"}, "transform": [{"filter": "datum.panel == 'E'"}], "mark": {"type": "point", "shape": "circle", "filled": false, "size": 105, "strokeWidth": 1.5, "opacity": 1},
             "encoding": {"x": {"field": "x", "type": "quantitative"}, "y": {"field": "y", "type": "quantitative"},
                          "stroke": {"field": "ditch", "type": "nominal", "scale": {"domain": ["collector ditch", "drainage ditch"], "range": ["#00FF00", "#0000FF"]}}}},
            {"data": {"name": "boxes"}, "transform": [{"filter": "datum.panel == 'E'"}], "mark": {"type": "point", "shape": "M-1,-1L1,1M-1,1L1,-1", "size": 289, "strokeWidth": 1.5, "color": "black", "filled": false, "opacity": 1},
             "encoding": {"x": {"field": "x", "type": "quantitative"}, "y": {"field": "mean", "type": "quantitative"}}},
            {"data": {"values": [{}]}, "mark": {"type": "text", "fontSize": 20, "align": "center", "baseline": "middle", "color": "black"},
             "encoding": {"x": {"datum": 1.559}, "y": {"datum": 0.606}, "text": {"value": "p < 0.01"}}},
            {"data": {"values": [{}]}, "mark": {"type": "text", "fontSize": 24, "fontWeight": "bold", "align": "left", "baseline": "alphabetic", "color": "black"},
             "encoding": {"x": {"datum": -0.344}, "y": {"datum": 0.566}, "text": {"value": "E"}}}
          ]
        }
      ]
    }
  ]
}
